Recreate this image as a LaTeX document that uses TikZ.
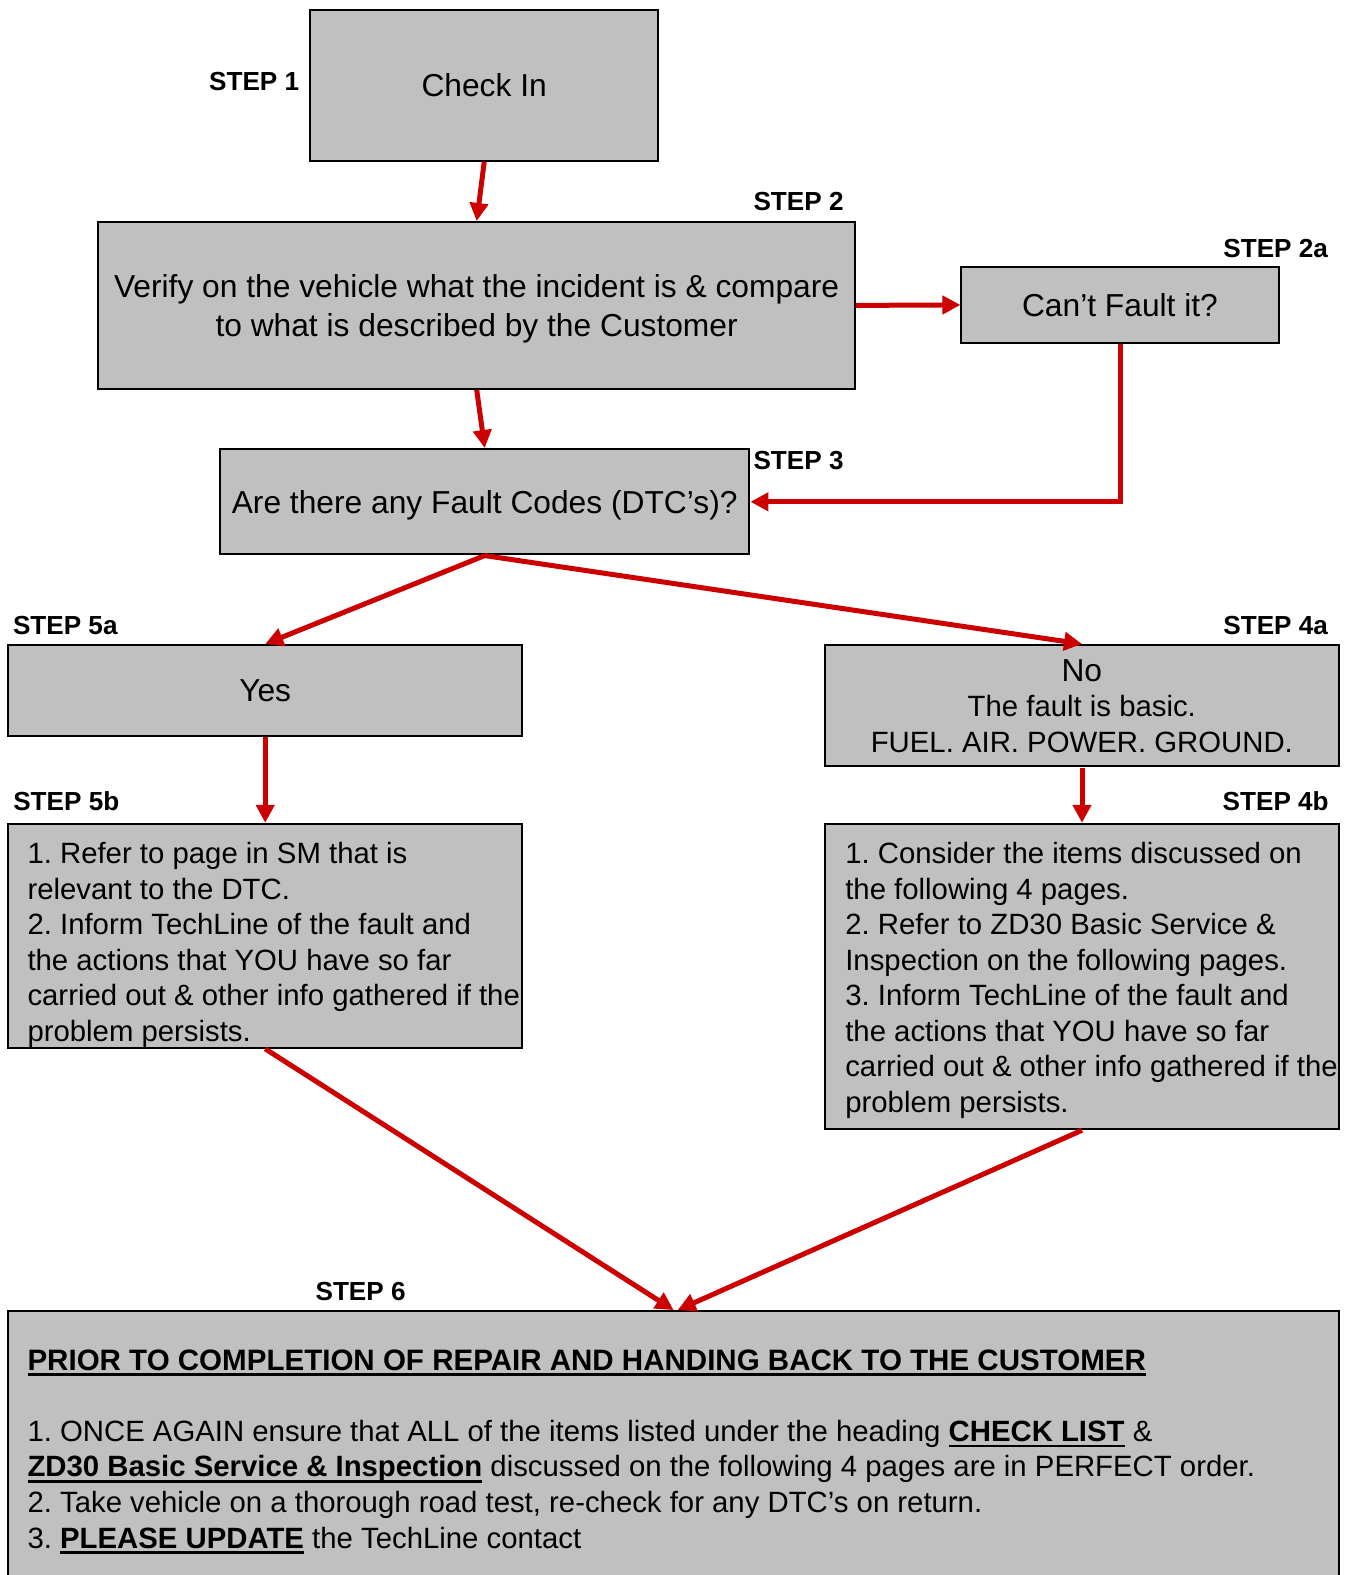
\documentclass[tikz,border=0pt]{standalone}
\usepackage{fontspec}
\setmainfont{Liberation Sans}
\usetikzlibrary{arrows.meta,calc}
\definecolor{stepgray}{RGB}{192,192,192}
\definecolor{stepred}{RGB}{204,0,0}
\newcommand{\bigtxt}{\fontsize{15.8pt}{19.5pt}\selectfont}
\newcommand{\bodytxt}{\fontsize{14.6pt}{17.7pt}\selectfont}
\newcommand{\ulb}[1]{{\bfseries\setbox0=\hbox{#1}\rlap{\rule[-2.8pt]{\wd0}{1.2pt}}\box0}}
\frenchspacing

\begin{document}
\begin{tikzpicture}[x=0.5pt,y=-0.5pt,scale=1.00447,transform shape,
  box/.style={draw,line width=1pt,fill=stepgray,inner sep=2pt,align=center,font=\bigtxt,text depth=0pt},
  steplbl/.style={font=\fontsize{13pt}{15pt}\selectfont\bfseries,inner sep=0pt},
  body/.style={font=\bodytxt,align=left,inner sep=0pt,anchor=north west},
  flow/.style={draw=stepred,line width=2.5pt,-{Triangle[length=9pt,width=9pt]}}
]
  \clip (0,0) rectangle (1341,1568);

  % Step 1 - 3
  \node[box,minimum width=173pt,minimum height=75pt] (checkin) at (482,85) {Check In};
  \node[box,minimum width=376.5pt,minimum height=83pt] (verify) at (474.5,304)
    {Verify on the vehicle what the incident is \& compare\\to what is described by the Customer};
  \node[box,minimum width=158pt,minimum height=37.5pt] (fault) at (1115,303.5) {Can’t Fault it?};
  \node[box,minimum width=263.5pt,minimum height=52.5pt] (codes) at (482.5,499.5) {Are there any Fault Codes (DTC’s)?};

  % Step 4 / 5
  \node[box,minimum width=256pt,minimum height=45.5pt] (yes) at (264,687.5) {Yes};
  \node[box,font=\bodytxt,minimum width=256pt,minimum height=60.5pt] (basic) at (1077,702.5)
    {{\bigtxt No}\\The fault is basic.\\FUEL. AIR. POWER. GROUND.};
  \node[box,minimum width=256pt,minimum height=111.5pt] (dtc) at (264,931.5) {};
  \node[body] (dtctext) at ($(dtc.north west)+(20,19)$)
    {1. Refer to page in SM that is\\relevant to the DTC.\\2. Inform TechLine of the fault and\\the actions that YOU have so far\\carried out \& other info gathered if the\\problem persists.};
  \node[box,minimum width=256pt,minimum height=152pt] (items) at (1077,972) {};
  \node[body] (itemstext) at ($(items.north west)+(21,19)$)
    {1. Consider the items discussed on\\the following 4 pages.\\2. Refer to ZD30 Basic Service \&\\Inspection on the following pages.\\3. Inform TechLine of the fault and\\the actions that YOU have so far\\carried out \& other info gathered if the\\problem persists.};

  % Step 6
  \node[box,minimum width=662.5pt,minimum height=147.5pt] (final) at (670.5,1452.5) {};
  \node[body] (finaltext) at ($(final.north west)+(20,39)$)
    {{\fontsize{14.7pt}{17.7pt}\selectfont\ulb{PRIOR TO COMPLETION OF REPAIR AND HANDING BACK TO THE CUSTOMER}}\\[17.7pt]
     1. ONCE AGAIN ensure that ALL of the items listed under the heading \ulb{CHECK LIST} \&\\
     \ulb{ZD30 Basic Service \& Inspection} discussed on the following 4 pages are in PERFECT order.\\
     2. Take vehicle on a thorough road test, re-check for any DTC’s on return.\\
     3. \ulb{PLEASE UPDATE} the TechLine contact};

  % step labels
  \node[steplbl] (s1) at (253,81) {STEP 1};
  \node[steplbl] (s2) at (795,201) {STEP 2};
  \node[steplbl] (s2a) at (1270,247) {STEP 2a};
  \node[steplbl] (s3) at (795,458) {STEP 3};
  \node[steplbl] (s5a) at (65,623) {STEP 5a};
  \node[steplbl] (s4a) at (1270,623) {STEP 4a};
  \node[steplbl] (s5b) at (66,798) {STEP 5b};
  \node[steplbl] (s4b) at (1270,798) {STEP 4b};
  \node[steplbl] (s6) at (359,1286) {STEP 6};

  % arrows
  \draw[flow] (checkin.south) -- (verify.north);
  \draw[flow] (verify.south) -- (codes.north);
  \draw[flow] (verify.east) -- (fault.west);
  \draw[flow] (fault.south) |- (codes.east);
  \draw[flow] (codes.south) -- (yes.north);
  \draw[flow] (codes.south) -- (basic.north);
  \draw[flow] (yes.south) -- (dtc.north);
  \draw[flow] (basic.south) -- (items.north);
  \draw[flow] (dtc.south) -- (final.north);
  \draw[flow] (items.south) -- ([xshift=2pt]final.north);
\end{tikzpicture}
\end{document}
